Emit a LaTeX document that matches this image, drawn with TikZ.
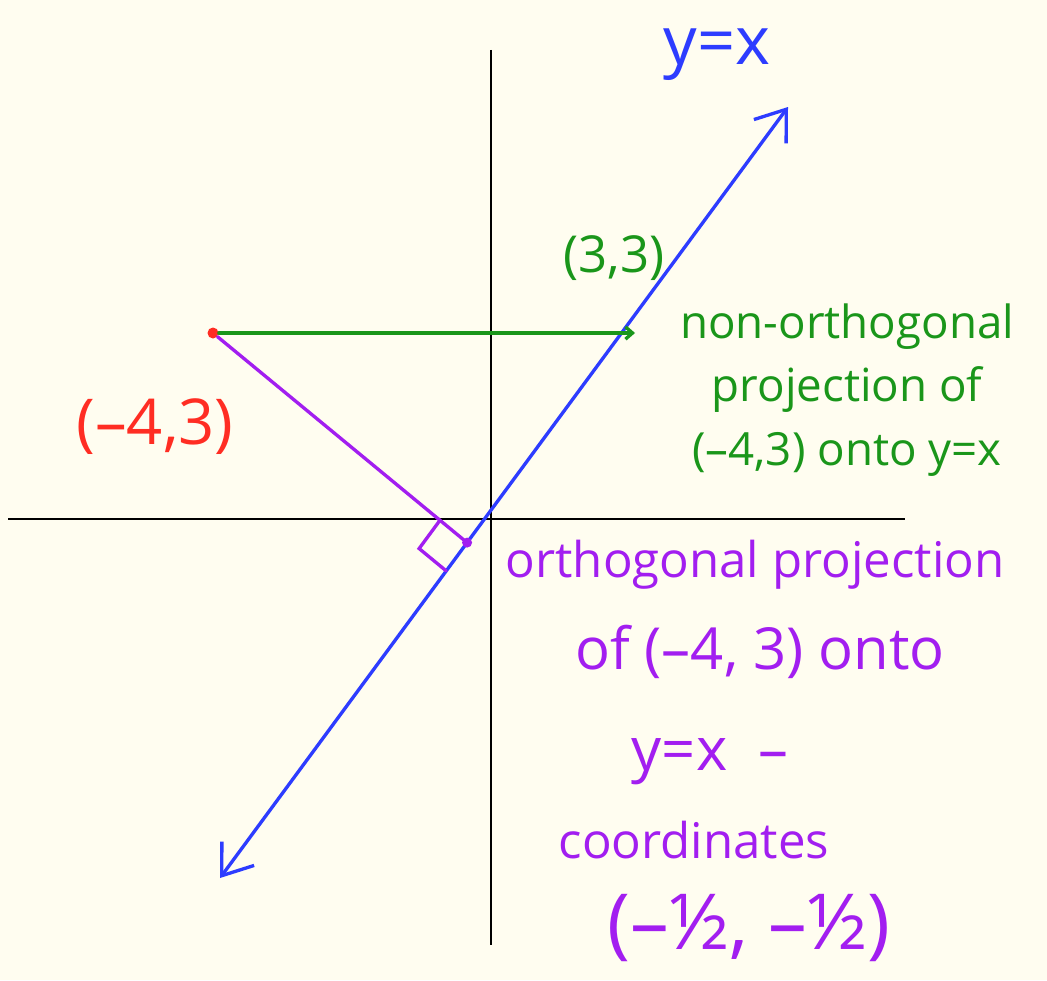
\documentclass[tikz,border=0pt]{standalone}
\usepackage{fontspec}
\setmainfont{Open Sans}
\usetikzlibrary{arrows.meta, calc}
\definecolor{paper}{RGB}{255,253,240}
\definecolor{lineblue}{RGB}{45,60,255}
\definecolor{projgreen}{RGB}{26,150,26}
\definecolor{orthpurple}{RGB}{162,30,240}
\definecolor{pointred}{RGB}{255,45,35}

\begin{document}
\begin{tikzpicture}[x=0.02cm, y=-0.02cm,
    axis/.style={draw=black, line width=1.5pt},
    line/.style={line width=1.9pt, line cap=round},
    barbs/.style={{Straight Barb[length=0.55cm, width=0.8cm]}-{Straight Barb[length=0.55cm, width=0.8cm]}},
    dot/.style={circle, inner sep=0pt, minimum size=0.22cm},
    note/.style={font=\fontsize{26}{36}\selectfont, inner sep=0pt, align=center}
  ]
  \fill[paper] (0,0) rectangle (1047,980);
  \useasboundingbox (0,0) rectangle (1047,980);

  % axes
  \coordinate (ytop) at (491,50);
  \coordinate (ybot) at (491,945);
  \coordinate (xleft) at (8,519);
  \coordinate (xright) at (905,519);
  \draw[axis] (ytop) -- (ybot);
  \draw[axis] (xleft) -- (xright);

  % the line y=x
  \coordinate (lo) at (220,878);
  \coordinate (hi) at (788,107);
  \draw[line, draw=lineblue, barbs] (lo) -- (hi);
  \node[note, text=lineblue, font=\fontsize{38}{40}\selectfont] (yx) at (717,55) {y=x};

  % the point and its projections
  \node[dot, fill=pointred] (P) at (213,333) {};
  \coordinate (Q) at (635,333);
  \path (lo) -- (hi) coordinate[pos=0.435] (R);
  \draw[line, draw=projgreen, -{Straight Barb[length=4pt, width=7pt]}] (P) -- (Q);
  \draw[line, draw=orthpurple] (P) -- (R);
  \node[dot, fill=orthpurple, minimum size=0.2cm] (Rdot) at (R) {};

  % right angle mark
  \coordinate (m1) at ($(R)!20pt!(P)$);
  \coordinate (m3) at ($(R)!20pt!(lo)$);
  \coordinate (m2) at ($(m1)+(m3)-(R)$);
  \draw[line, draw=orthpurple] (m1) -- (m2) -- (m3);

  % labels
  \node[note, text=pointred, font=\fontsize{36}{40}\selectfont] (plabel) at (155,427) {(–4,3)};
  \node[note, text=projgreen, font=\fontsize{29}{36}\selectfont] (qlabel) at (614,258) {(3,3)};
  \node[note, text=projgreen] (qnote) at (847,390) {non-orthogonal\\projection of\\(–4,3) onto y=x};

  \node[note, text=orthpurple, font=\fontsize{28}{36}\selectfont] (rnote1) at (755,565) {orthogonal projection};
  \node[note, text=orthpurple, font=\fontsize{33}{36}\selectfont] (rnote2) at (760,652) {of (–4, 3) onto};
  \node[note, text=orthpurple, font=\fontsize{34}{36}\selectfont] (rnote3) at (710,762) {y=x \ –};
  \node[note, text=orthpurple, font=\fontsize{28}{36}\selectfont] (rnote4) at (694,840) {coordinates};
  \node[note, text=orthpurple, font=\fontsize{44}{48}\selectfont] (rnote5) at (749,928) {(–½, –½)};
\end{tikzpicture}
\end{document}
